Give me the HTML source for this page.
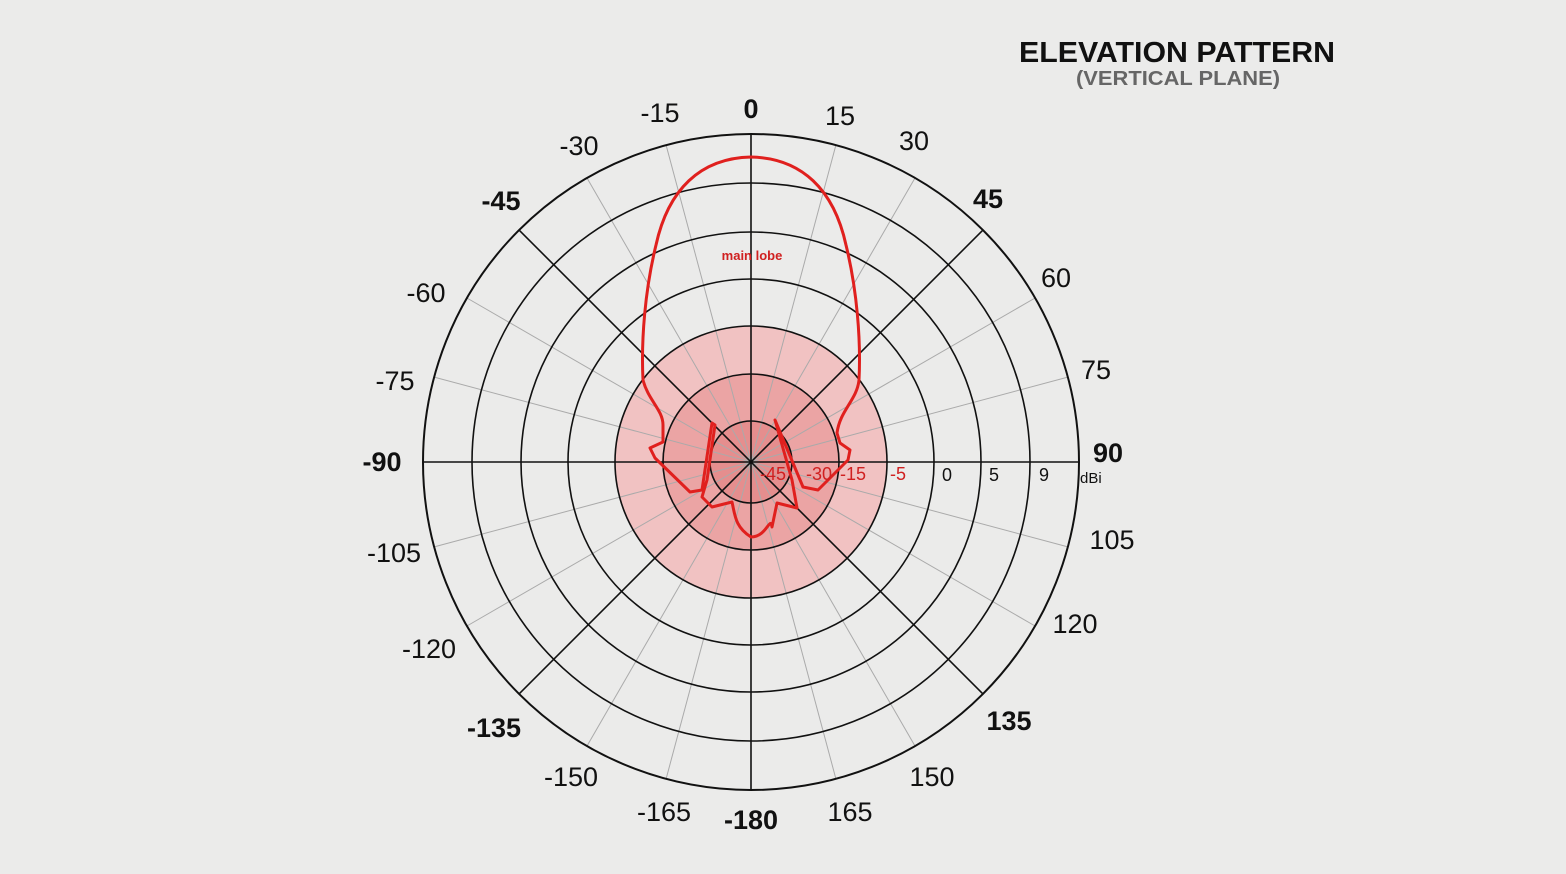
<!DOCTYPE html>
<html><head><style>
html,body{margin:0;padding:0;background:#ebebea;}
svg{display:block;font-family:"Liberation Sans",sans-serif;}
</style></head><body>
<svg width="1566" height="874" viewBox="0 0 1566 874">
<rect width="1566" height="874" fill="#ebebea"/>
<g transform="translate(751,462)">
<circle r="136" fill="#f1c2c2"/>
<circle r="88" fill="#eba4a4"/>
<circle r="41" fill="#e58e8e"/>
<g stroke="#aaa" stroke-width="1">
<line x1="0" y1="-328" x2="0" y2="328" transform="rotate(15)"/>
<line x1="0" y1="-328" x2="0" y2="328" transform="rotate(30)"/>
<line x1="0" y1="-328" x2="0" y2="328" transform="rotate(60)"/>
<line x1="0" y1="-328" x2="0" y2="328" transform="rotate(75)"/>
<line x1="0" y1="-328" x2="0" y2="328" transform="rotate(105)"/>
<line x1="0" y1="-328" x2="0" y2="328" transform="rotate(120)"/>
<line x1="0" y1="-328" x2="0" y2="328" transform="rotate(150)"/>
<line x1="0" y1="-328" x2="0" y2="328" transform="rotate(165)"/>
</g>
<g stroke="#111" stroke-width="1.6" fill="none">
<line x1="0" y1="-328" x2="0" y2="328"/>
<line x1="-328" y1="0" x2="328" y2="0"/>
<line x1="0" y1="-328" x2="0" y2="328" transform="rotate(45)"/>
<line x1="0" y1="-328" x2="0" y2="328" transform="rotate(-45)"/>
<circle r="41"/><circle r="88"/><circle r="136"/><circle r="183"/><circle r="230"/><circle r="279"/><circle r="328" stroke-width="2"/>
</g>
</g>
<path fill="none" stroke="#e0201e" stroke-width="3" stroke-linejoin="round" d="M751,157 C700,158 668,190 656,245 C645,290 641,340 643,380 C648,400 663,410 663,425 L663,442 L650,448 L655,458 L690,492 L702,490 L712,423 L715,425 L707,480 L702,497 L712,507 L732,502 C735,515 735,527 751,537 C767,537 770,515 772,527 L777,503 L797,508 L792,480 L775,420 L803,487 L818,490 L848,460 L850,450 L840,443 L837,433 C840,410 857,400 859,380 C861,340 857,290 846,245 C834,190 802,158 751,157 Z"/>
<text x="752" y="260" font-size="13" font-weight="bold" fill="#d02020" text-anchor="middle">main lobe</text>
<g font-size="18" fill="#d02020">
<text x="760" y="480">-45</text><text x="806" y="480">-30</text><text x="840" y="480">-15</text><text x="890" y="480">-5</text>
</g>
<g font-size="18" fill="#111">
<text x="942" y="481">0</text><text x="989" y="481">5</text><text x="1039" y="481">9</text>
<text x="1080" y="483" font-size="15">dBi</text>
</g>
<g font-size="27" fill="#111" text-anchor="middle">
<text x="751" y="118" font-weight="bold">0</text>
<text x="840" y="125">15</text>
<text x="914" y="150">30</text>
<text x="988" y="208" font-weight="bold">45</text>
<text x="1056" y="287">60</text>
<text x="1096" y="379">75</text>
<text x="1108" y="462" font-weight="bold">90</text>
<text x="1112" y="549">105</text>
<text x="1075" y="633">120</text>
<text x="1009" y="730" font-weight="bold">135</text>
<text x="932" y="786">150</text>
<text x="850" y="821">165</text>
<text x="751" y="829" font-weight="bold">-180</text>
<text x="664" y="821">-165</text>
<text x="571" y="786">-150</text>
<text x="494" y="737" font-weight="bold">-135</text>
<text x="429" y="658">-120</text>
<text x="394" y="562">-105</text>
<text x="382" y="471" font-weight="bold">-90</text>
<text x="395" y="390">-75</text>
<text x="426" y="302">-60</text>
<text x="501" y="210" font-weight="bold">-45</text>
<text x="579" y="155">-30</text>
<text x="660" y="122">-15</text>
</g>
<text x="1019" y="62" font-size="29" font-weight="bold" fill="#111" textLength="316" lengthAdjust="spacingAndGlyphs">ELEVATION PATTERN</text>
<text x="1076" y="85" font-size="20" font-weight="bold" fill="#666" textLength="204" lengthAdjust="spacingAndGlyphs">(VERTICAL PLANE)</text>
</svg>
</body></html>
